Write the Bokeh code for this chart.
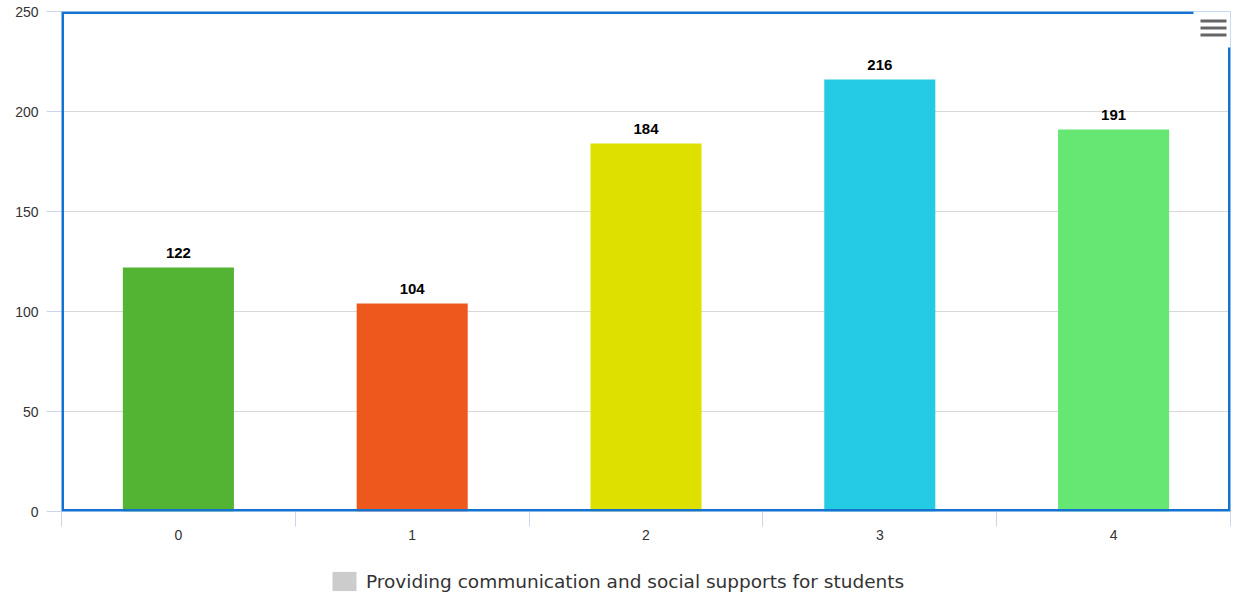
from bokeh.plotting import figure
from bokeh.layouts import column
from bokeh.models import (FixedTicker, Legend, LegendItem, ColumnDataSource,
                          BoxAnnotation, Range1d)
from bokeh.core.properties import value
from bokeh.embed import file_html
from bokeh.resources import INLINE

categories = [0, 1, 2, 3, 4]
counts = [122, 104, 184, 216, 191]
colors = ["#53b332", "#ee581c", "#dee000", "#25cae3", "#66e672"]
series_name = "Providing communication and social supports for students"
y_ticks = [0, 50, 100, 150, 200, 250]

W, H = 1235, 597
H_MAIN = 551
p = figure(width=W, height=H_MAIN, output_backend="svg", toolbar_location=None,
           x_range=Range1d(-0.5, 4.5), y_range=Range1d(0, 250),
           min_border_left=61, min_border_right=5, min_border_top=11,
           min_border_bottom=40)
p.background_fill_color = "white"
p.border_fill_color = "white"
p.outline_line_color = None

src = ColumnDataSource(dict(x=categories, top=counts, color=colors,
                            label=[str(c) for c in counts]))
p.vbar(x="x", top="top", width=0.475, color="color", line_color=None, source=src)
p.text(x="x", y="top", text="label", source=src, text_align="center",
       text_baseline="bottom", y_offset=-10, text_font=value("Liberation Sans"),
       text_font_size="15px", text_font_style="bold", text_color="#000000")

# grid
p.xgrid.grid_line_color = None
p.ygrid.grid_line_color = "#d8d8d8"
p.ygrid.grid_line_width = 1

# y axis
p.yaxis.ticker = FixedTicker(ticks=y_ticks)
p.yaxis.axis_line_color = None
p.yaxis.major_tick_line_color = "#ccd6eb"
p.yaxis.major_tick_out = 15
p.yaxis.major_tick_in = 0
p.yaxis.minor_tick_line_color = None
p.yaxis.major_label_standoff = 8
p.yaxis.major_label_text_font = "Liberation Sans"
p.yaxis.major_label_text_font_size = "14px"
p.yaxis.major_label_text_color = "#333333"

# x axis
p.xaxis.ticker = FixedTicker(ticks=categories,
                             minor_ticks=[c - 0.5 for c in categories] + [categories[-1] + 0.5])
p.xaxis.axis_line_color = None
p.xaxis.major_tick_line_color = None
p.xaxis.major_tick_out = 15
p.xaxis.major_tick_in = 0
p.xaxis.minor_tick_line_color = "#ccd6eb"
p.xaxis.minor_tick_out = 15
p.xaxis.minor_tick_in = 0
p.xaxis.major_label_standoff = 3
p.xaxis.major_label_text_font = "Liberation Sans"
p.xaxis.major_label_text_font_size = "14px"
p.xaxis.major_label_text_color = "#333333"

# plot border (drawn as an annotation so the menu button can sit over it)
p.add_layout(BoxAnnotation(fill_alpha=0, line_color="#1473d0", line_alpha=1.0,
                           line_width=5, level="annotation"))

# menu button (decoration)
p.add_layout(BoxAnnotation(left=1132, right=1180, top=506, bottom=464,
                           left_units="screen", right_units="screen",
                           top_units="screen", bottom_units="screen",
                           fill_color="white", fill_alpha=1, line_color=None,
                           level="overlay"))
for t in (492, 485, 478):
    p.add_layout(BoxAnnotation(left=1139, right=1165, top=t, bottom=t - 3,
                               left_units="screen", right_units="screen",
                               top_units="screen", bottom_units="screen",
                               fill_color="#666666", fill_alpha=1, line_color=None,
                               level="overlay"))

# legend strip below the chart
lg = figure(width=W, height=H - H_MAIN, output_backend="svg", toolbar_location=None,
            x_range=Range1d(0, 1), y_range=Range1d(0, 1),
            x_axis_location=None, y_axis_location=None,
            min_border_left=0, min_border_right=0, min_border_top=0,
            min_border_bottom=0)
lg.outline_line_color = None
lg.xgrid.grid_line_color = None
lg.ygrid.grid_line_color = None
dummy = lg.vbar(x=[0.5], top=[0], bottom=[0], width=0.0,
                fill_color="#cccccc", line_color=None)
legend = Legend(items=[LegendItem(label=series_name, renderers=[dummy])],
                orientation="horizontal", location=(268, 4),
                border_line_color=None, background_fill_alpha=0,
                label_text_font="DejaVu Sans", label_text_font_size="18.5px",
                label_text_color="#333333", glyph_width=30, glyph_height=24,
                padding=4, margin=0, label_standoff=7)
lg.add_layout(legend, "center")

layout = column(p, lg, spacing=0)
open("out.html", "w").write(file_html(layout, INLINE))
